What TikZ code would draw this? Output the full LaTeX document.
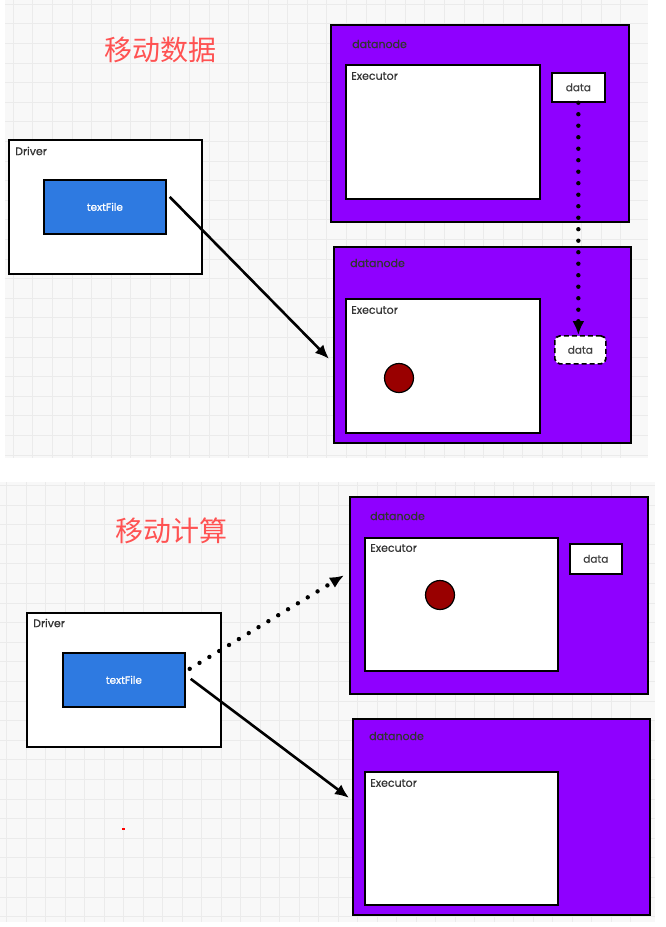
\documentclass[tikz,border=0pt]{standalone}
\usepackage{fontspec}
\usepackage{xcolor}
\usetikzlibrary{arrows.meta,positioning,calc}
\newfontfamily\cjkfont{Noto Sans CJK SC}
\newfontfamily\sketchfont{Poppins}[FakeBold=0.6]
\definecolor{nodepurple}{HTML}{8F00FF}
\definecolor{fileblue}{HTML}{2E7AE1}
\definecolor{taskred}{HTML}{990000}
\definecolor{titlered}{HTML}{FF5252}
\definecolor{gridbg}{HTML}{F8F8F8}
\definecolor{gridline}{HTML}{EBEBEB}

\begin{document}
\begin{tikzpicture}[x=1pt,y=-1pt,>={Latex[length=14pt,width=12pt]},
  frame/.style={draw=black, line width=1.7pt, anchor=north west, inner sep=0pt, fill=white},
  datanodebox/.style={frame, fill=nodepurple},
  filebox/.style={frame, fill=fileblue, text=white, font=\sketchfont\fontsize{10.5}{12}\selectfont},
  databox/.style={frame, font=\sketchfont\fontsize{10.5}{12}\selectfont, text=black!75},
  ghostbox/.style={databox, dashed, dash pattern=on 5pt off 3pt, rounded corners=5pt},
  boxlabel/.style={anchor=west, inner sep=0pt, font=\sketchfont\fontsize{11}{13}\selectfont, text=black!80},
  title/.style={font=\cjkfont\fontsize{28}{32}\selectfont, text=titlered},
  task/.style={circle, draw=black, line width=1.2pt, fill=taskred, minimum size=29pt, inner sep=0pt},
  flow/.style={->, line width=2.6pt},
  moveflow/.style={->, line width=4.4pt, line cap=round, dash pattern=on 0pt off 11.5pt}]
\useasboundingbox (0,0) rectangle (665,927);

\fill[gridbg] (5,0) rectangle (648,458);
\foreach \x in {13.3,32.9,...,640} \draw[gridline, line width=1pt] (\x,0) -- (\x,458);
\foreach \y in {4.3,23.9,...,456} \draw[gridline, line width=1pt] (5,\y) -- (648,\y);
\fill[gridbg] (0,482) rectangle (655,922);
\foreach \x in {6.7,26.2,...,650} \draw[gridline, line width=1pt] (\x,482) -- (\x,922);
\foreach \y in {485.4,505,...,920} \draw[gridline, line width=1pt] (0,\y) -- (655,\y);

% moving the data
\node[title] (t1) at (160,50) {移动数据};

\node[datanodebox, minimum width=298pt, minimum height=197pt] (dn1) at (330,24) {};
\node[boxlabel] at (352,44) {datanode};
\node[frame, minimum width=194pt, minimum height=134pt] (ex1) at (345,64) {};
\node[boxlabel] at (351,76) {Executor};
\node[databox, minimum width=53pt, minimum height=29pt] (d1) at (551,72) {data};

\node[datanodebox, minimum width=297pt, minimum height=196pt] (dn2) at (333,246) {};
\node[boxlabel] at (350,263) {datanode};
\node[frame, minimum width=194pt, minimum height=134pt] (ex2) at (345,298) {};
\node[boxlabel] at (351,310) {Executor};
\node[ghostbox, minimum width=51pt, minimum height=28pt] (d2) at (554,335) {data};
\node[task] (k1) at (399,378) {};

\node[frame, minimum width=193pt, minimum height=134pt] (drv1) at (8,139) {};
\node[boxlabel] at (15,151) {Driver};
\node[filebox, minimum width=122pt, minimum height=54pt] (tf1) at (43,179) {textFile};

\draw[flow] ($(tf1.east)+(3,-10)$) -- ($(dn2.west)+(-4,14)$);
\draw[moveflow] (d1.south) -- (d1.south |- d2.north);

% moving the computation
\node[title] (t2) at (171,531) {移动计算};

\node[datanodebox, minimum width=298pt, minimum height=197pt] (dn3) at (349,496) {};
\node[boxlabel] at (370,516) {datanode};
\node[frame, minimum width=193pt, minimum height=133pt] (ex3) at (364,537) {};
\node[boxlabel] at (370,548) {Executor};
\node[databox, minimum width=52pt, minimum height=30pt] (d3) at (569,543) {data};
\node[task] (k2) at (440,595) {};

\node[datanodebox, minimum width=297pt, minimum height=196pt] (dn4) at (352,718) {};
\node[boxlabel] at (369,736) {datanode};
\node[frame, minimum width=193pt, minimum height=133pt] (ex4) at (364,771) {};
\node[boxlabel] at (370,783) {Executor};

\node[frame, minimum width=194pt, minimum height=134pt] (drv2) at (26,612) {};
\node[boxlabel] at (33,623) {Driver};
\node[filebox, minimum width=122pt, minimum height=54pt] (tf2) at (62,652) {textFile};

\draw[moveflow] ($(tf2.east)+(4,-11)$) -- ($(dn3.west)+(-5,-20)$);
\draw[flow] ($(tf2.east)+(5,-1)$) -- ($(dn4.west)+(-3,-19)$);

\fill[red] (122,828) rectangle (125,830);
\end{tikzpicture}
\end{document}
